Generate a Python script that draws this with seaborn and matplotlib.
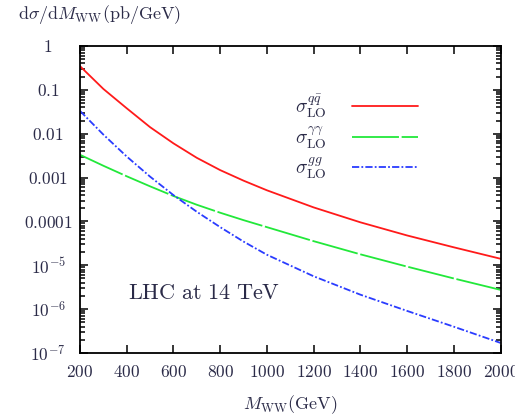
import numpy as np
import pandas as pd
import seaborn as sns
import matplotlib
matplotlib.use("Agg")
import matplotlib.pyplot as plt
from matplotlib.ticker import FixedLocator, FixedFormatter, LogLocator, NullFormatter

# Invariant mass of the WW pair (GeV)
m_ww = [200, 300, 400, 500, 600, 700, 800, 900, 1000, 1200, 1400, 1600, 1800, 2000]

# dsigma/dM_WW (pb/GeV) for each production channel at LO
sigma_qq = [3.47e-1, 1.05e-1, 3.80e-2, 1.41e-2, 6.03e-3, 2.82e-3, 1.48e-3, 8.51e-4,
            5.13e-4, 2.09e-4, 9.55e-5, 4.79e-5, 2.57e-5, 1.41e-5]
sigma_aa = [3.31e-3, 1.86e-3, 1.07e-3, 6.31e-4, 3.80e-4, 2.40e-4, 1.58e-4, 1.07e-4,
            7.41e-5, 3.55e-5, 1.78e-5, 9.33e-6, 5.01e-6, 2.75e-6]
sigma_gg = [3.31e-2, 9.55e-3, 3.02e-3, 1.05e-3, 3.98e-4, 1.66e-4, 7.41e-5, 3.47e-5,
            1.74e-5, 5.62e-6, 2.14e-6, 9.12e-7, 3.98e-7, 1.70e-7]

series_labels = [r"$\sigma^{q\bar{q}}_{\rm LO}$", r"$\sigma^{\gamma\gamma}_{\rm LO}$",
                 r"$\sigma^{gg}_{\rm LO}$"]

x_ticks = [200, 400, 600, 800, 1000, 1200, 1400, 1600, 1800, 2000]
y_ticks = [1e-7, 1e-6, 1e-5, 1e-4, 1e-3, 1e-2, 1e-1, 1]
y_tick_labels = [r"$10^{-7}$", r"$10^{-6}$", r"$10^{-5}$", r"$\mathrm{0.0001}$",
                 r"$\mathrm{0.001}$", r"$\mathrm{0.01}$", r"$\mathrm{0.1}$", r"$\mathrm{1}$"]

sns.set_style("ticks")
plt.rcParams["font.family"] = ["DejaVu Serif"]
plt.rcParams["mathtext.fontset"] = "cm"

text_color = "#2b2b48"

fig = plt.figure(figsize=(5.15, 4.18), dpi=100)
ax = fig.add_axes([80 / 515, 1 - 353 / 418, 420.5 / 515, 307 / 418])

df = pd.DataFrame({"M": m_ww, "qq": sigma_qq, "aa": sigma_aa, "gg": sigma_gg})

styles = [
    ("qq", "#ff1a1a", "-"),
    ("aa", "#22e83a", (0, (26, 1.5))),
    ("gg", "#2a3cff", (0, (4, 1.2, 1, 1.2))),
]
for (col, color, ls), lab in zip(styles, series_labels):
    sns.lineplot(data=df, x="M", y=col, ax=ax, color=color, linestyle=ls,
                 linewidth=1.3, label=lab)

ax.set_yscale("log")
ax.set_xlim(200, 2000)
ax.set_ylim(1e-7, 1)

ax.xaxis.set_major_locator(FixedLocator(x_ticks))
ax.set_xticklabels([rf"$\mathrm{{{t}}}$" for t in x_ticks])
ax.yaxis.set_major_locator(FixedLocator(y_ticks))
ax.yaxis.set_major_formatter(FixedFormatter(y_tick_labels))
ax.yaxis.set_minor_locator(LogLocator(base=10, subs=np.arange(2, 10), numticks=20))
ax.yaxis.set_minor_formatter(NullFormatter())

ax.tick_params(which="both", direction="in", top=True, right=True,
               labelsize=12.5, labelcolor=text_color, width=1.1, color="black")
ax.tick_params(which="major", length=6)
ax.tick_params(which="minor", length=3.5)
ax.tick_params(axis="x", which="major", pad=8)
ax.tick_params(axis="y", which="major", pad=23)
for lbl in ax.get_yticklabels():
    lbl.set_horizontalalignment("center")
for sp in ax.spines.values():
    sp.set_visible(True)
    sp.set_linewidth(1.3)
    sp.set_color("black")

ax.set_xlabel(r"$M_{\rm WW}(\mathrm{GeV})$", fontsize=13, color=text_color, labelpad=9)
ax.set_ylabel("")
fig.text(18 / 515, 1 - 15 / 418, r"$\mathrm{d}\sigma/\mathrm{d}M_{\rm WW}(\mathrm{pb/GeV})$",
         fontsize=13, color=text_color, ha="left", va="center")

ax.text(0.114, 0.195, r"$\mathrm{LHC\ at\ 14\ TeV}$", transform=ax.transAxes,
        fontsize=16, color=text_color, ha="left", va="center")

leg = ax.legend(loc="upper right", bbox_to_anchor=(0.845, 0.905), frameon=False,
                markerfirst=False, handlelength=3.4, fontsize=14, labelspacing=0.25,
                handletextpad=1.3, labelcolor=text_color)

fig.savefig("out.png", dpi=100, facecolor="white")
